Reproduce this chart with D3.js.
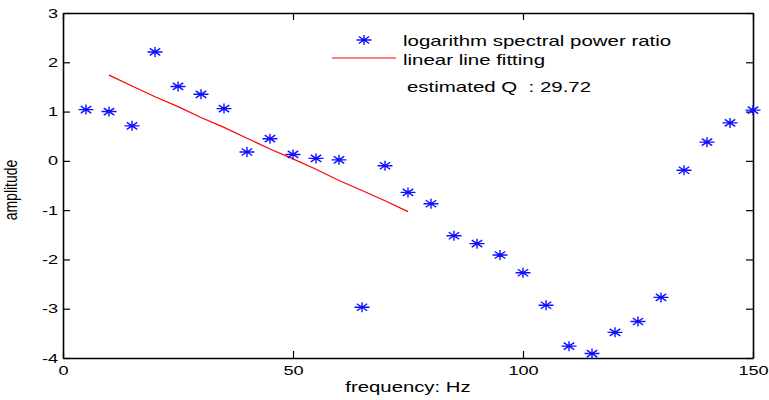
<!DOCTYPE html>
<html>
<head>
<meta charset="utf-8">
<script src="https://cdn.jsdelivr.net/npm/d3@7"></script>
<style>
  body { margin: 0; background: #fff; }
  svg text { font-family: "Liberation Sans", Arial, sans-serif; fill: #000; }
</style>
</head>
<body>
<div id="chart"></div>
<script>
// data
var freqs = [5, 10, 15, 20, 25, 30, 35, 40, 45, 50, 55, 60, 65, 70, 75,
             80, 85, 90, 95, 100, 105, 110, 115, 120, 125, 130, 135, 140, 145, 150];
var ratio = [1.04, 1.0, 0.71, 2.21, 1.51, 1.35, 1.06, 0.18, 0.45, 0.13, 0.05, 0.02, -2.97, -0.10, -0.64,
             -0.87, -1.52, -1.68, -1.91, -2.27, -2.93, -3.76, -3.91, -3.48, -3.26, -2.77, -0.19, 0.38, 0.77, 1.03];
var fitFreqs = [10, 15, 20, 25, 30, 35, 40, 45, 50, 55, 60, 65, 70, 75];
var fitVals = [1.74, 1.52, 1.30, 1.10, 0.88, 0.68, 0.46, 0.24, 0.04, -0.17, -0.40, -0.60, -0.81, -1.03];
var xTicks = [0, 50, 100, 150];
var yTicks = [-4, -3, -2, -1, 0, 1, 2, 3];
var legendLabels = ["logarithm spectral power ratio", "linear line fitting"];
var qText = "estimated Q  : 29.72";

var width = 769, height = 400;
var sx = 1.45; // picture is stretched sideways

var svg = d3.select('#chart')
    .append('svg')
    .attr('width', width)
    .attr('height', height);

var x = d3.scaleLinear().domain([0, 150]).range([63, 753]);
var y = d3.scaleLinear().domain([-4, 3]).range([358, 13]);

// stretch text sideways
function stretch(sel, k) {
    sel.each(function () {
        var len = this.getComputedTextLength();
        d3.select(this).attr('textLength', len * k).attr('lengthAdjust', 'spacingAndGlyphs');
    });
}

// axes, ticks pointing inward
var gx = svg.append('g')
    .attr('transform', 'translate(0,' + y(-4) + ')')
    .call(d3.axisBottom(x).tickValues(xTicks).tickFormat(d => String(d))
        .tickSizeInner(-7).tickSizeOuter(0).tickPadding(8));
var gy = svg.append('g')
    .attr('transform', 'translate(' + x(0) + ',0)')
    .call(d3.axisLeft(y).tickValues(yTicks).tickFormat(d => String(d))
        .tickSizeInner(-7).tickSizeOuter(0).tickPadding(5));
var gt = svg.append('g')
    .attr('transform', 'translate(0,' + y(3) + ')')
    .call(d3.axisTop(x).tickValues(xTicks).tickFormat('')
        .tickSizeInner(-7).tickSizeOuter(0));
var gr = svg.append('g')
    .attr('transform', 'translate(' + x(150) + ',0)')
    .call(d3.axisRight(y).tickValues(yTicks).tickFormat('')
        .tickSizeInner(-7).tickSizeOuter(0));

[gx, gy, gt, gr].forEach(function (g) {
    g.select('.domain').attr('stroke', '#000').attr('stroke-width', 1.6);
    g.selectAll('.tick line').attr('stroke', '#000').attr('stroke-width', 1.2);
    g.selectAll('text').attr('font-size', 12.5).attr('fill', '#000')
        .attr('font-family', '"Liberation Sans", Arial, sans-serif');
});
stretch(gx.selectAll('text'), sx);
stretch(gy.selectAll('text'), sx);

// axis titles
var xl = svg.append('text')
    .text('frequency: Hz')
    .attr('x', 408)
    .attr('y', 392)
    .attr('text-anchor', 'middle')
    .attr('font-size', 14);
stretch(xl, sx);

svg.append('text')
    .text('amplitude')
    .attr('text-anchor', 'middle')
    .attr('font-size', 14)
    .attr('transform', 'translate(17,190) scale(1.3,1) rotate(-90)');

// asterisk marker
function star(hx, hy) {
    var dx = hx * 0.7, dy = hy * 0.7;
    return 'M' + (-hx) + ',0L' + hx + ',0M0,' + (-hy) + 'L0,' + hy +
        'M' + (-dx) + ',' + (-dy) + 'L' + dx + ',' + dy +
        'M' + (-dx) + ',' + dy + 'L' + dx + ',' + (-dy);
}

// fitted line
var line = d3.line().x(d => x(d[0])).y(d => y(d[1]));
svg.append('path')
    .datum(fitFreqs.map((f, i) => [f, fitVals[i]]))
    .attr('d', line)
    .attr('fill', 'none')
    .attr('stroke', '#ff0000')
    .attr('stroke-width', 1.2);

// data points
svg.append('g')
    .selectAll('path')
    .data(freqs.map((f, i) => [f, ratio[i]]))
    .join('path')
    .attr('transform', d => 'translate(' + x(d[0]) + ',' + y(d[1]) + ')')
    .attr('d', star(7.5, 5))
    .attr('fill', 'none')
    .attr('stroke', '#1010ff')
    .attr('stroke-width', 1.4);

// legend
svg.append('path')
    .attr('transform', 'translate(364,40)')
    .attr('d', star(7.5, 5))
    .attr('fill', 'none')
    .attr('stroke', '#1010ff')
    .attr('stroke-width', 1.4);
svg.append('path')
    .attr('d', 'M332,58L396,58')
    .attr('stroke', '#ff0000')
    .attr('stroke-width', 1.2);

var lt = svg.selectAll('.leg')
    .data(legendLabels)
    .join('text')
    .attr('class', 'leg')
    .text(d => d)
    .attr('x', 403)
    .attr('y', (d, i) => i == 0 ? 46 : 65)
    .attr('font-size', 14.5);
stretch(lt, 1.41);

var qt = svg.append('text')
    .text(qText)
    .attr('x', 407)
    .attr('y', 92)
    .attr('font-size', 14.5)
    .style('white-space', 'pre');
stretch(qt, 1.41);
</script>
</body>
</html>
